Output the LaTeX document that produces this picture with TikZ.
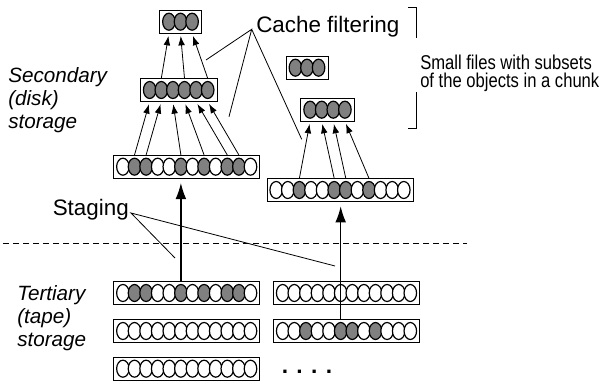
\documentclass[tikz,border=0pt]{standalone}
\usepackage{fontspec}
\setmainfont{Liberation Sans}
\newfontfamily\narrowfont[FakeStretch=0.83]{Liberation Sans}
\usetikzlibrary{shapes.geometric,arrows.meta}

% a chunk of objects: name, number of objects, centre x, centre y, objects (1 = selected)
\newcommand{\chunk}[5]{%
  \node[cbox, minimum width={#2*8.7pt+5.25pt}] (#1) at (#3,#4) {};
  \foreach \f [count=\i] in {#5} {
    \node[obj\f] (#1-\i) at ({#3+(\i-(#2+1)/2)*11.6},#4) {};
  }
}

\begin{document}
\begin{tikzpicture}[x=0.75pt,y=-0.75pt,
    cbox/.style={draw, line width=0.6pt, minimum height=16.9pt, inner sep=0pt},
    obj0/.style={ellipse, draw, line width=0.9pt, fill=white, minimum width=9.4pt, minimum height=12.75pt, inner sep=0pt},
    obj1/.style={obj0, fill=black!50},
    arr/.style={-{Latex[length=7pt,width=5pt]}, line width=0.6pt, shorten >=2pt},
    stage/.style={-{Latex[length=12pt,width=8pt]}, line width=0.9pt, shorten >=3.5pt},
    side/.style={font=\itshape\fontsize{15.5}{17.3}\selectfont, align=left, inner sep=0pt},
    lbl/.style={font=\fontsize{16.8}{20}\selectfont, inner sep=0pt}]
    \useasboundingbox (0,0) rectangle (601,384);

    % secondary (disk) storage
    \chunk{top}{3}{180.5}{21.7}{1,1,1}
    \chunk{mid}{6}{178.7}{90}{1,1,1,1,1,1}
    \chunk{lc}{12}{186.7}{166.7}{0,1,1,0,0,1,0,1,0,1,1,0}
    \chunk{sf}{3}{307}{67.7}{1,1,1}
    \chunk{rf}{4}{327.5}{109.7}{1,1,1,1}
    \chunk{rc}{12}{340}{190}{0,0,1,0,0,1,1,0,1,0,0,0}

    % tertiary (tape) storage
    \chunk{ta}{12}{186.7}{293}{0,1,1,0,0,1,0,1,0,1,1,0}
    \chunk{tb}{12}{186.7}{331}{0,0,0,0,0,0,0,0,0,0,0,0}
    \chunk{tc}{12}{186.7}{368.7}{0,0,0,0,0,0,0,0,0,0,0,0}
    \chunk{td}{12}{346.5}{293}{0,0,0,0,0,0,0,0,0,0,0,0}
    \chunk{te}{12}{346.5}{331}{0,0,1,0,0,1,1,0,1,0,0,0}
    \node[font=\bfseries\fontsize{17}{17}\selectfont, inner sep=0pt] (more) at (307,372) {. . . .};

    % cache filtering
    \foreach \s/\d in {2/1,4/2,6/3}
        \draw[arr] (mid-\s |- mid.north) -- (top-\d |- top.south);
    \foreach \s/\d in {2/1,3/2,6/3,8/4,10/5,11/6}
        \draw[arr] (lc-\s |- lc.north) -- (mid-\d |- mid.south);
    \foreach \s/\d in {3/1,6/2,7/3,9/4}
        \draw[arr] (rc-\s |- rc.north) -- (rf-\d |- rf.south);

    % staging
    \draw[stage] (ta-6 |- ta.north) -- (lc-6 |- lc.south);
    \draw[stage] (te-6 |- te.north) -- (te-6 |- rc.south);

    \draw[dash pattern=on 4.5pt off 3pt, line width=0.6pt] (3,243.3) -- (467,243.3);

    % labels
    \node[side, anchor=west] (sec) at (8,100) {Secondary\\(disk)\\storage};
    \node[side, anchor=west] (ter) at (17,318) {Tertiary\\(tape)\\storage};

    \node[lbl, anchor=west] (cf) at (256,26.7) {Cache filtering};
    \coordinate (cf0) at (251.7,29.3);
    \coordinate (cf1) at (206,60);
    \coordinate (cf2) at (229,116.7);
    \coordinate (cf3) at (301.7,139.3);
    \draw[line width=0.6pt] (cf1) -- (cf0) -- (cf2) (cf0) -- (cf3);

    \node[lbl, anchor=east] (stg) at (129,210) {Staging};
    \coordinate (st0) at (131,213);
    \coordinate (st1) at (175,258);
    \coordinate (st2) at (335,266);
    \draw[line width=0.6pt] (st1) -- (st0) -- (st2);

    \node[font=\narrowfont\fontsize{15}{13.5}\selectfont, align=left, inner sep=0pt, anchor=west] (small) at (420,73)
        {Small files with subsets\\of the objects in a chunk};
    \draw[line width=0.6pt] (408,7) -- (416,7) -- (416,38) (416,92) -- (416,128) -- (408,128);
\end{tikzpicture}
\end{document}
